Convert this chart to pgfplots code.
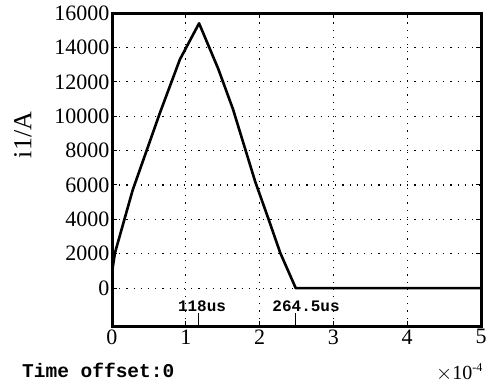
\documentclass[border=0pt]{standalone}
\usepackage{pgfplots}
\pgfplotsset{compat=1.18}
\usepackage{fontspec}
\setmainfont{Liberation Serif}
\newfontfamily\monofont{Liberation Mono}
\begin{document}
\begin{tikzpicture}
\path[use as bounding box] (-112pt,-58pt) rectangle (382pt,326pt);
\begin{axis}[
  name=main,
  at={(0pt,0pt)}, anchor=south west,
  scale only axis, width=369pt, height=313pt,
  xmin=0, xmax=5, ymin=-2200, ymax=16000,
  xtick={0,1,2,3,4,5},
  ytick={0,2000,...,16000},
  scaled x ticks=false, scaled y ticks=false,
  /pgf/number format/assume math mode=true,
  /pgf/number format/set thousands separator={},
  ticklabel style={font=\fontsize{22}{24}\selectfont},
  yticklabel style={xshift=1pt},
  grid=major,
  major grid style={black, line width=1.2pt, dash pattern=on 1.2pt off 6pt},
  tick style={black, line width=1pt},
  major tick length=5pt,
]
\addplot[black, line width=2.6pt, line join=round] coordinates {
(0,0) (0.01,1200) (0.04,2050) (0.28,5700) (0.65,10200) (0.92,13300) (1.18,15400)
(1.44,12750) (1.64,10400) (1.94,6200) (2.11,4150) (2.28,2050) (2.49,0) (5,0)};
\draw[black, line width=1pt] (axis cs:1.17,-2200) -- (axis cs:1.17,-1450);
\draw[black, line width=1pt] (axis cs:2.49,-2200) -- (axis cs:2.49,-1450);
\node[anchor=base, font=\monofont\bfseries\fontsize{16}{17}\selectfont, inner sep=0pt] at (axis cs:1.22,-1350) {118us};
\node[anchor=base, font=\monofont\bfseries\fontsize{16}{17}\selectfont, inner sep=0pt] at (axis cs:2.63,-1350) {264.5us};
\end{axis}
\draw[black, line width=3pt] (main.south west) rectangle (main.north east);
\node[rotate=90, font=\fontsize{26}{28}\selectfont] at (-89pt,191pt) {i1/A};
\node[anchor=base west, font=\monofont\bfseries\fontsize{19.5}{22}\selectfont, inner sep=0pt] at (-90pt,-51pt) {Time offset:0};
\node[anchor=base west, font=\fontsize{20}{22}\selectfont, inner sep=0pt] at (324pt,-53pt) {$\times$10\raisebox{8pt}{\fontsize{12}{13}\selectfont -4}};
\end{tikzpicture}
\end{document}
